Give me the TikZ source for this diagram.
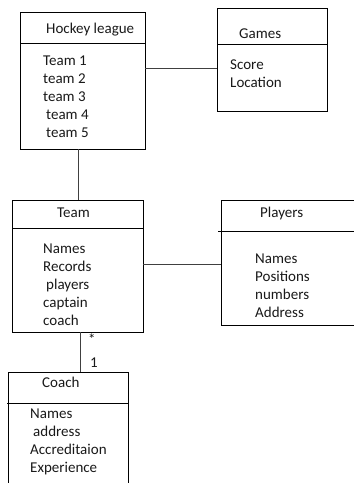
\documentclass[tikz,border=0pt]{standalone}
\usepackage{fontspec}
\setmainfont{Carlito}
\begin{document}
\begin{tikzpicture}[x=1pt,y=-1pt,
  box/.style={draw=black,line width=0.9pt,fill=none},
  conn/.style={draw=black!75,line width=0.9pt},
  lbl/.style={anchor=base west,inner sep=0pt,text=black!90,font=\fontsize{15}{18}\selectfont}]
\useasboundingbox (0,0) rectangle (354,483);
% boxes
\draw[box] (20,12) rectangle (145,149);
\draw[box] (20,43) -- (145,43);
\coordinate (hlE) at (145,68);
\coordinate (hlS) at (78,149);
\draw[box] (217,8) rectangle (327,111);
\draw[box] (217,44) -- (327,44);
\coordinate (gW) at (217,68);
\draw[box] (12,200) rectangle (143,332);
\draw[box] (12,228) -- (143,228);
\coordinate (tN) at (78,200);
\coordinate (tE) at (143,264);
\coordinate (tS) at (80,332);
\draw[box] (360,200) -- (221,200) -- (221,325) -- (360,325);
\draw[box] (218,231) -- (360,231);
\coordinate (pW) at (221,264);
\draw[box] (8,490) -- (8,372) -- (128,372) -- (128,490);
\draw[box] (7,403) -- (128,403);
\coordinate (cN) at (80,372);
% connectors
\draw[conn] (hlE) -- (gW);
\draw[conn] (hlS) -- (tN);
\draw[conn] (tE) -- (pW);
\draw[conn] (tS) -- (cN);
% labels
\node[lbl] (t1) at (46,33) {Hockey league};
\node[lbl] (t2) at (43,65) {Team 1};
\node[lbl] (t3) at (43,83) {team 2};
\node[lbl] (t4) at (43,101) {team 3};
\node[lbl] (t5) at (46,119) {team 4};
\node[lbl] (t6) at (46,137) {team 5};
\node[lbl] (g1) at (239,38) {Games};
\node[lbl] (g2) at (230,69) {Score};
\node[lbl] (g3) at (230,87) {Location};
\node[lbl] (m1) at (57,217) {Team};
\node[lbl] (m2) at (43,253) {Names};
\node[lbl] (m3) at (43,271) {Records};
\node[lbl] (m4) at (46,289) {players};
\node[lbl] (m5) at (43,307) {captain};
\node[lbl] (m6) at (43,325) {coach};
\node[lbl] (p1) at (260,217) {Players};
\node[lbl] (p2) at (255,263) {Names};
\node[lbl] (p3) at (255,281) {Positions};
\node[lbl] (p4) at (255,299) {numbers};
\node[lbl] (p5) at (255,317) {Address};
\node[lbl] (c1) at (42,387) {Coach};
\node[lbl] (c2) at (30,418) {Names};
\node[lbl] (c3) at (33,436) {address};
\node[lbl] (c4) at (30,454) {Accreditaion};
\node[lbl] (c5) at (30,472) {Experience};
\node[lbl] (star) at (88,344) {*};
\node[lbl] (one) at (90,367) {1};
\end{tikzpicture}
\end{document}
